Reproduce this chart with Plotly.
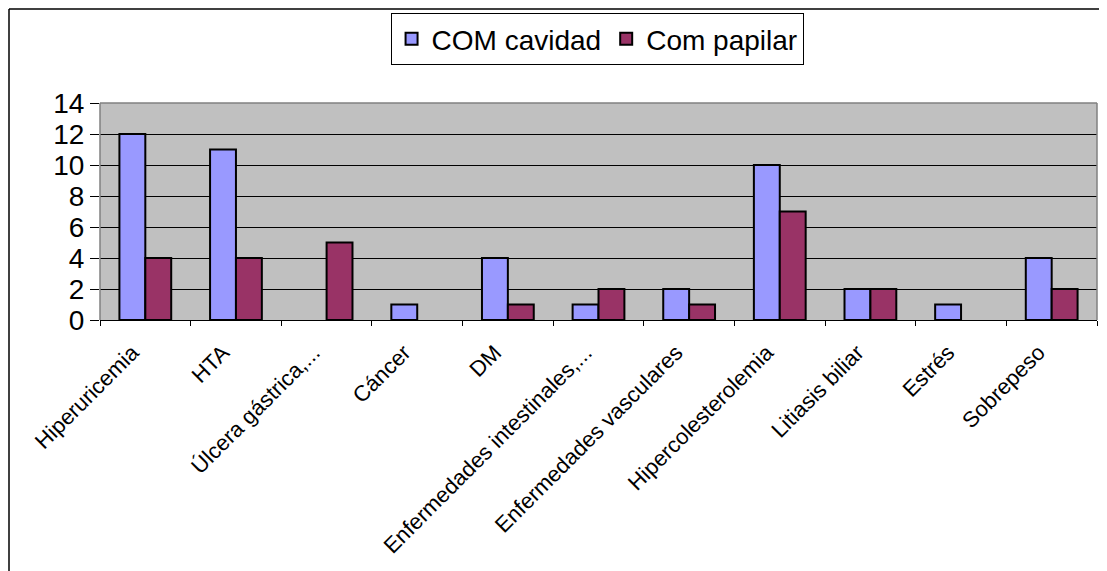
import plotly.graph_objects as go

categories = ["Hiperuricemia", "HTA", "Úlcera gástrica,...", "Cáncer", "DM",
              "Enfermedades intestinales,...", "Enfermedades vasculares",
              "Hipercolesterolemia", "Litiasis biliar", "Estrés", "Sobrepeso"]
com_cavidad = [12, 11, None, 1, 4, 1, 2, 10, 2, 1, 4]
com_papilar = [4, 4, 5, None, 1, 2, 1, 7, 2, None, 2]
y_ticks = [0, 2, 4, 6, 8, 10, 12, 14]

FONT = "Liberation Sans, Arial, sans-serif"

# the page puts the figure 8px in from the top-left corner
W, H = 1099, 563

fig = go.Figure()
fig.add_trace(go.Bar(x=categories, y=com_cavidad, name="COM cavidad",
                     marker=dict(color="#9999FF", line=dict(color="black", width=2))))
fig.add_trace(go.Bar(x=categories, y=com_papilar, name="Com papilar",
                     marker=dict(color="#993366", line=dict(color="black", width=2))))

fig.update_layout(
    width=W, height=H,
    margin=dict(l=92, r=10, t=95, b=251, autoexpand=False),
    paper_bgcolor="white", plot_bgcolor="#C0C0C0",
    barmode="group", bargap=0.4286, bargroupgap=0,
    font=dict(family=FONT, color="black"),
    legend=dict(orientation="h", xref="container", yref="container",
                x=0.536, xanchor="center", y=0.991, yanchor="top",
                bordercolor="black", borderwidth=1, bgcolor="white",
                font=dict(size=28, family=FONT), itemwidth=30,
                tracegroupgap=0),
    showlegend=True,
)
fig.update_xaxes(tickangle=-45, tickfont=dict(size=22), showline=True,
                 linecolor="black", linewidth=1, ticks="outside", ticklen=5,
                 tickcolor="black", tickson="boundaries", showgrid=False,
                 ticklabelshift=-13, ticklabelstandoff=10, automargin=False)
fig.update_yaxes(range=[0, 14], tickvals=y_ticks, tickfont=dict(size=28),
                 showgrid=True, gridcolor="black", gridwidth=1, zeroline=False,
                 ticks="outside", ticklen=9, tickcolor="black", showline=False,
                 automargin=False)

# plot area border (gray)
for x0, y0, x1, y1 in [(0, 1, 1, 1), (1, 0, 1, 1), (0, 0, 0, 1)]:
    fig.add_shape(type="line", xref="paper", yref="paper", x0=x0, y0=y0, x1=x1, y1=y1,
                  line=dict(color="#808080", width=1.5), layer="above")
# chart frame (black), top and left edges
px_x = lambda p: (p - 92) / (W - 102)
px_y = lambda p: 1 - (p - 95) / (H - 346)
fig.add_shape(type="line", xref="paper", yref="paper", x0=px_x(1), y0=px_y(1),
              x1=px_x(W + 20), y1=px_y(1), line=dict(color="black", width=1.5))
fig.add_shape(type="line", xref="paper", yref="paper", x0=px_x(1), y0=px_y(1),
              x1=px_x(1), y1=px_y(H + 20), line=dict(color="black", width=1.5))

fig.write_html("out.html")
